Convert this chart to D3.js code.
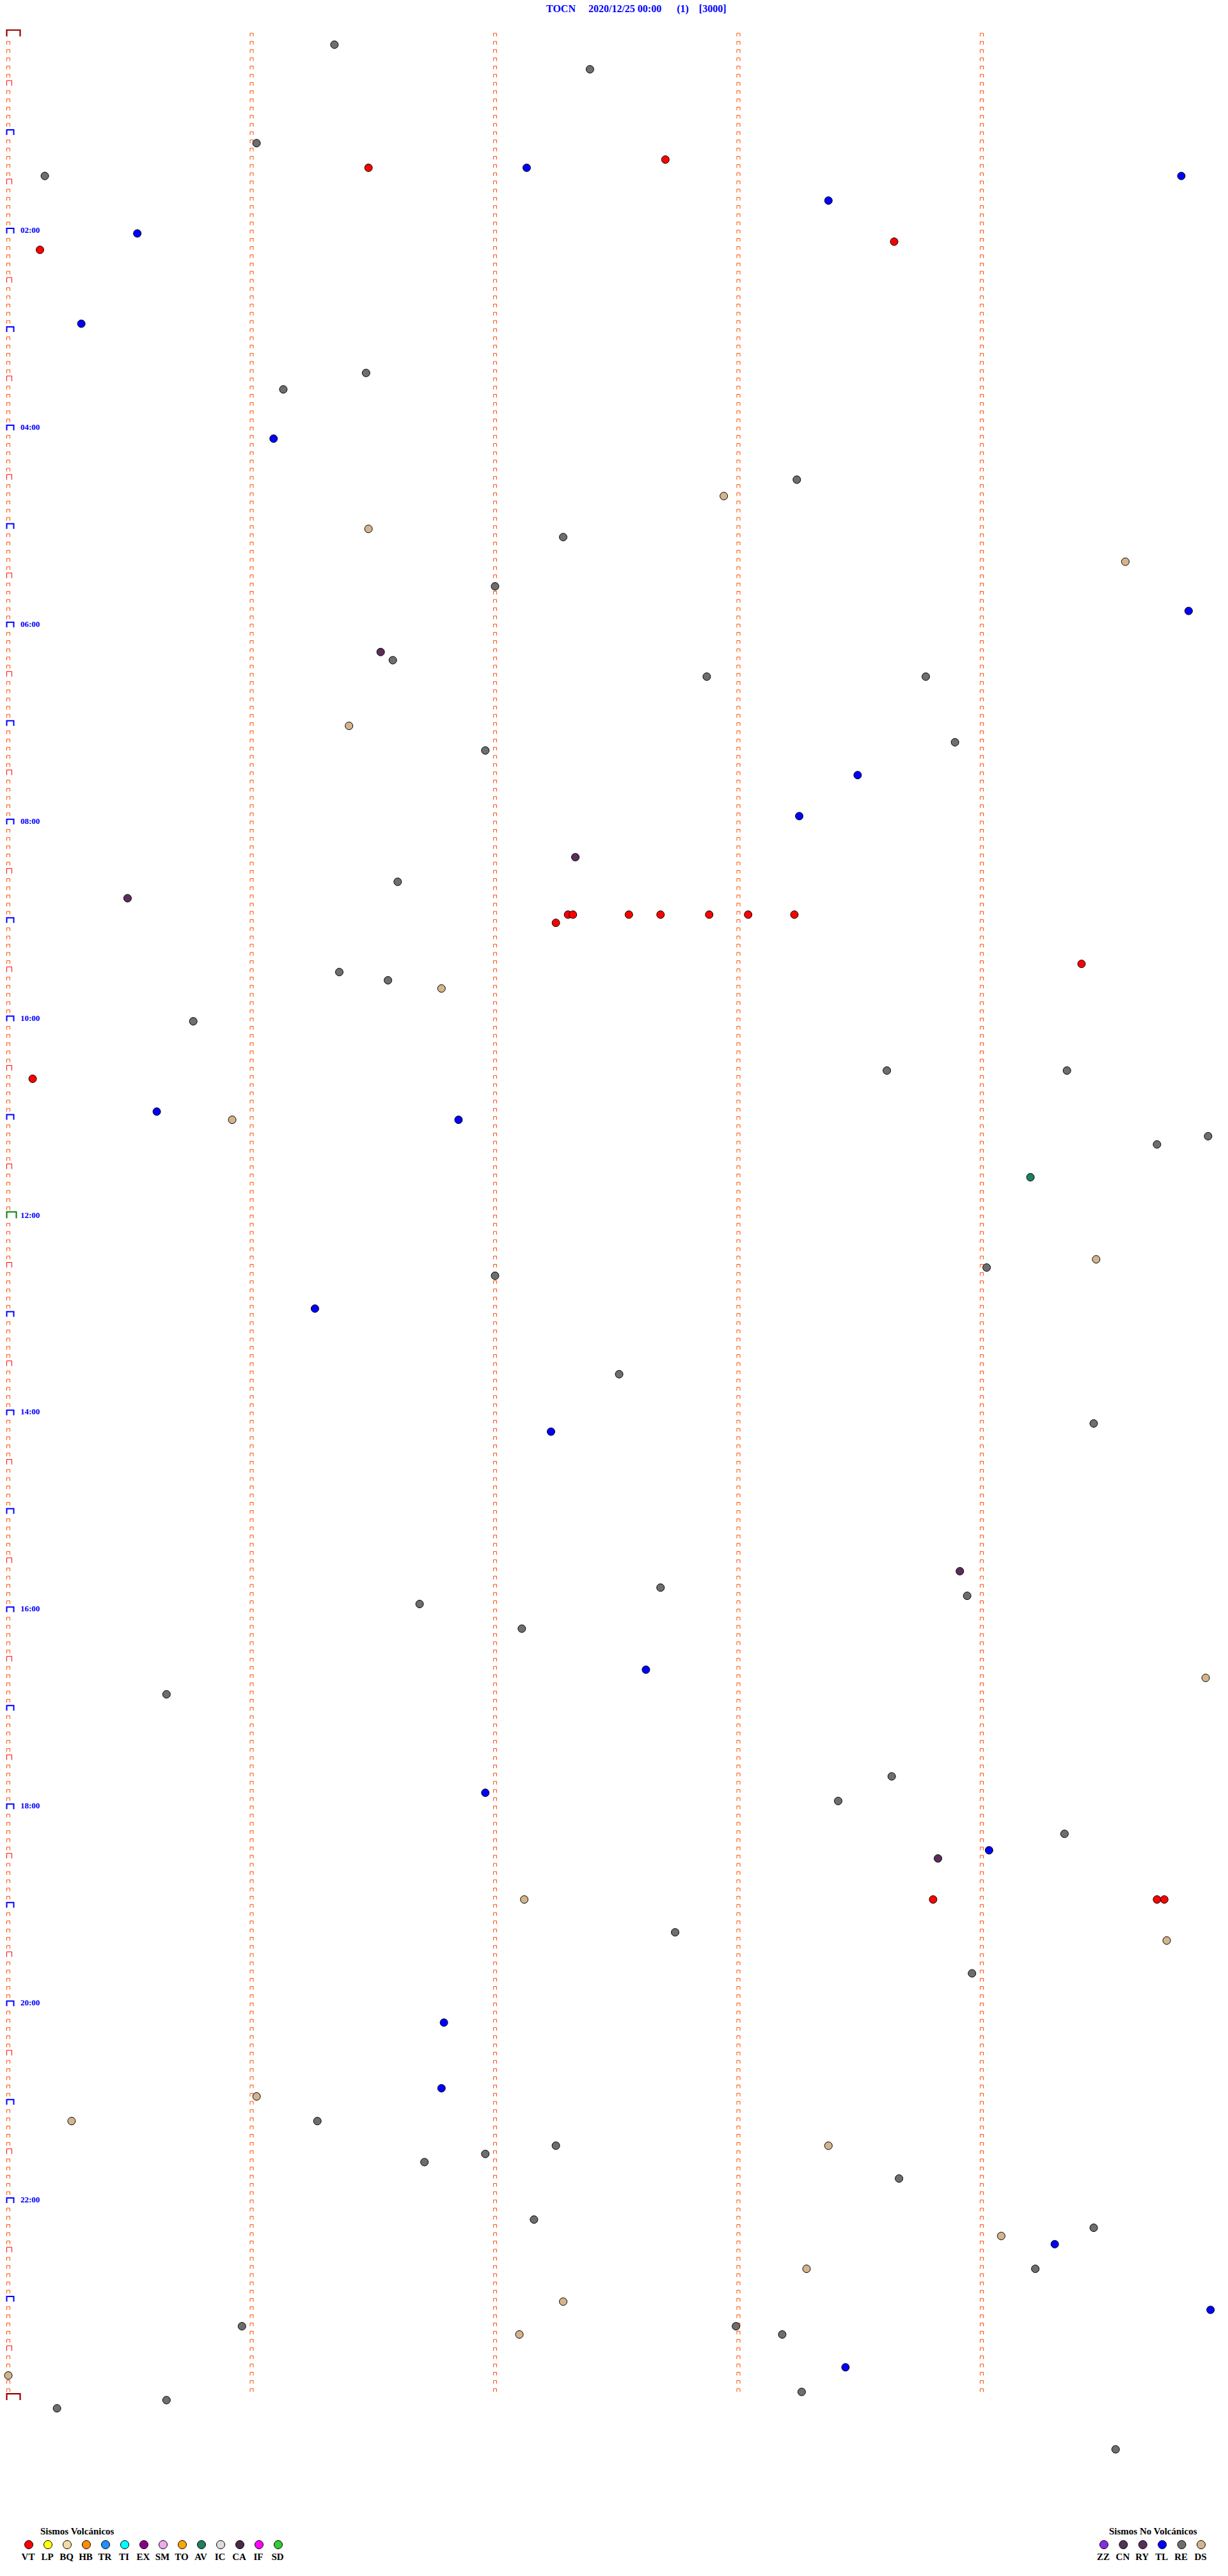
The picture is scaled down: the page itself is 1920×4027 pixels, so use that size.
<!DOCTYPE html>
<html><head><meta charset="utf-8">
<script src="https://cdn.jsdelivr.net/npm/d3@7/dist/d3.min.js"></script>
<style>
html,body{margin:0;padding:0;background:#fff;}
svg{display:block;}
text{font-family:"Liberation Serif","Times New Roman",serif;}
</style></head>
<body>
<script>
// ---------- DATA ----------
const station = "TOCN";
const startDate = "2020/12/25 00:00";
const titleExtra1 = "(1)";
const titleExtra2 = "[3000]";
const minutesPerRow = 5;
const rowsPerDay = 288;
const hourLabels = ["02:00","04:00","06:00","08:00","10:00","12:00","14:00","16:00","18:00","20:00","22:00"];

// event times in minutes after 00:00 and event type
const eventMinutes = [
  6.34, 22.39, 66.02, 85.15, 81.48, 82.13, 77.70, 89.82, 103.37, 120.53,
  130.13, 128.64, 175.30, 206.47, 216.13, 246.09, 273.24, 282.94, 301.48, 307.28,
  324.59, 337.00, 354.85, 376.53, 381.58, 392.87, 393.77, 421.40, 436.96, 433.89,
  453.49, 478.25, 502.33, 516.60, 525.49, 542.25, 537.30, 537.32, 537.55, 537.68,
  537.88, 538.04, 538.23, 569.41, 571.36, 576.56, 581.78, 600.76, 635.10, 633.61,
  634.35, 655.61, 660.92, 661.85, 679.72, 674.93, 699.20, 757.00, 754.02, 749.47,
  776.26, 817.51, 852.23, 849.46, 938.91, 947.68, 953.94, 956.69, 972.11, 997.62,
  1004.92, 1010.65, 1063.63, 1071.96, 1078.41, 1099.34, 1109.03, 1113.82, 1137.12, 1138.80,
  1139.72, 1139.75, 1164.76, 1157.74, 1183.96, 1211.79, 1251.78, 1256.02, 1270.26, 1271.27,
  1287.25, 1288.37, 1296.71, 1291.96, 1308.66, 1332.16, 1339.46, 1344.08, 1349.30, 1363.28,
  1364.22, 1382.28, 1389.94, 1395.96, 1402.10, 1397.99, 1403.18, 1423.44, 1425.00, 1438.26,
  1445.20, 1440.65, 1474.55
];
const eventTypes = [
  "RE","RE","RE","RE","VT","TL","VT","TL","TL","TL",
  "VT","VT","TL","RE","RE","TL","RE","DS","DS","RE",
  "DS","RE","TL","RY","RE","RE","RE","DS","RE","RE",
  "TL","TL","RY","RE","RY","VT","VT","VT","VT","VT",
  "VT","VT","VT","VT","RE","RE","DS","RE","VT","RE",
  "RE","TL","DS","TL","RE","RE","AV","RE","RE","DS",
  "TL","RE","TL","RE","RY","RE","RE","RE","RE","TL",
  "DS","RE","RE","TL","RE","RE","TL","RY","DS","VT",
  "VT","VT","DS","RE","RE","TL","TL","DS","DS","RE",
  "RE","DS","RE","RE","RE","RE","RE","DS","TL","DS",
  "RE","DS","TL","RE","DS","RE","RE","TL","DS","RE",
  "RE","RE","RE"
];

const volcanicCodes = ["VT","LP","BQ","HB","TR","TI","EX","SM","TO","AV","IC","CA","IF","SD"];
const volcanicColors = ["#ff0000","#ffff00","#f0dca8","#ff8c00","#1e90ff","#00ffff","#8b008b","#eeaaee","#ffa500","#1f7f5f","#dcdcdc","#4a2a48","#ff00ff","#32cd32"];
const nonVolcanicCodes = ["ZZ","CN","RY","TL","RE","DS"];
const nonVolcanicColors = ["#8a2be2","#4e3552","#5c2d5c","#0000ff","#6e6e6e","#d4b48c"];

// ---------- DRAW ----------
const W = 1920, H = 4027;
const svg = d3.select("body").append("svg").attr("width", W).attr("height", H);

const x = d3.scaleLinear().domain([0, minutesPerRow]).range([13, 13 + 380.5 * minutesPerRow]);
const y = d3.scaleLinear().domain([0, rowsPerDay]).range([57, 57 + 12.83 * rowsPerDay]);

// title
svg.append("text")
  .attr("x", 854).attr("y", 19)
  .attr("fill", "#0000ff").attr("font-size", 16).attr("font-weight", "bold")
  .style("white-space", "pre")
  .text(station + "     " + startDate + "      " + titleExtra1 + "    " + titleExtra2);

// row markers
function markerStyle(r) {
  if (r === 0 || r === rowsPerDay) return {c:"#990000", w:21, h:10, sw:2.2};
  if (r === rowsPerDay / 2) return {c:"#008000", w:15, h:10, sw:2};
  if (r % 12 === 0) return {c:"#0000ff", w:11, h:8, sw:2};
  if (r % 6 === 0) return {c:"#ff0000", w:8, h:8, sw:1};
  return {c:"#ff4a00", w:5, h:5, sw:1};
}
const leftRows = d3.range(0, rowsPerDay + 1);
svg.append("g").selectAll("path").data(leftRows).join("path")
  .attr("d", r => {
    const s = markerStyle(r), x0 = x(0) - 2.5, yb = y(r);
    return `M${x0},${yb}V${yb - s.h}H${x0 + s.w}V${yb}`;
  })
  .attr("fill", "none")
  .attr("stroke", r => markerStyle(r).c)
  .attr("stroke-width", r => markerStyle(r).sw);

const colMinutes = [1, 2, 3, 4];
const colCells = [];
colMinutes.forEach(m => d3.range(0, rowsPerDay).forEach(r => colCells.push({m, r})));
svg.append("g").selectAll("path").data(colCells).join("path")
  .attr("d", d => {
    const x0 = x(d.m) - 2.5, yb = y(d.r);
    return `M${x0},${yb}V${yb - 5}H${x0 + 5}V${yb}`;
  })
  .attr("fill", "none").attr("stroke", "#ff4a00").attr("stroke-width", 1);

// hour labels
svg.append("g").selectAll("text").data(hourLabels).join("text")
  .attr("x", 32)
  .attr("y", d => y((+d.slice(0, 2)) * 60 / minutesPerRow) - 1)
  .attr("fill", "#0000ff").attr("font-size", 13).attr("font-weight", "bold")
  .text(d => d);

// events
const colorOf = {};
volcanicCodes.forEach((c, i) => colorOf[c] = volcanicColors[i]);
nonVolcanicCodes.forEach((c, i) => colorOf[c] = nonVolcanicColors[i]);
const events = eventMinutes.map((t, i) => ({t, type: eventTypes[i]}));
svg.append("g").selectAll("circle").data(events).join("circle")
  .attr("cx", d => x(d.t % minutesPerRow))
  .attr("cy", d => y(Math.floor(d.t / minutesPerRow)))
  .attr("r", 6)
  .attr("fill", d => colorOf[d.type])
  .attr("stroke", "#000").attr("stroke-width", 1);

// legends
function legend(title, titleX, codes, colors, x0, dx) {
  const g = svg.append("g");
  g.append("text").attr("x", titleX).attr("y", 3962)
    .attr("font-size", 15).attr("font-weight", "bold").attr("fill", "#000").text(title);
  g.selectAll("circle").data(codes).join("circle")
    .attr("cx", (d, i) => x0 + i * dx).attr("cy", 3978).attr("r", 6.5)
    .attr("fill", (d, i) => colors[i]).attr("stroke", "#000").attr("stroke-width", 1);
  g.selectAll("text.lab").data(codes).join("text").attr("class", "lab")
    .attr("x", (d, i) => x0 + i * dx - 1).attr("y", 4002)
    .attr("text-anchor", "middle").attr("font-size", 15).attr("font-weight", "bold")
    .attr("fill", "#000").text(d => d);
}
legend("Sismos Volcánicos", 63, volcanicCodes, volcanicColors, 45, 30);
legend("Sismos No Volcánicos", 1734, nonVolcanicCodes, nonVolcanicColors, 1726, 30.4);
</script>
</body></html>
